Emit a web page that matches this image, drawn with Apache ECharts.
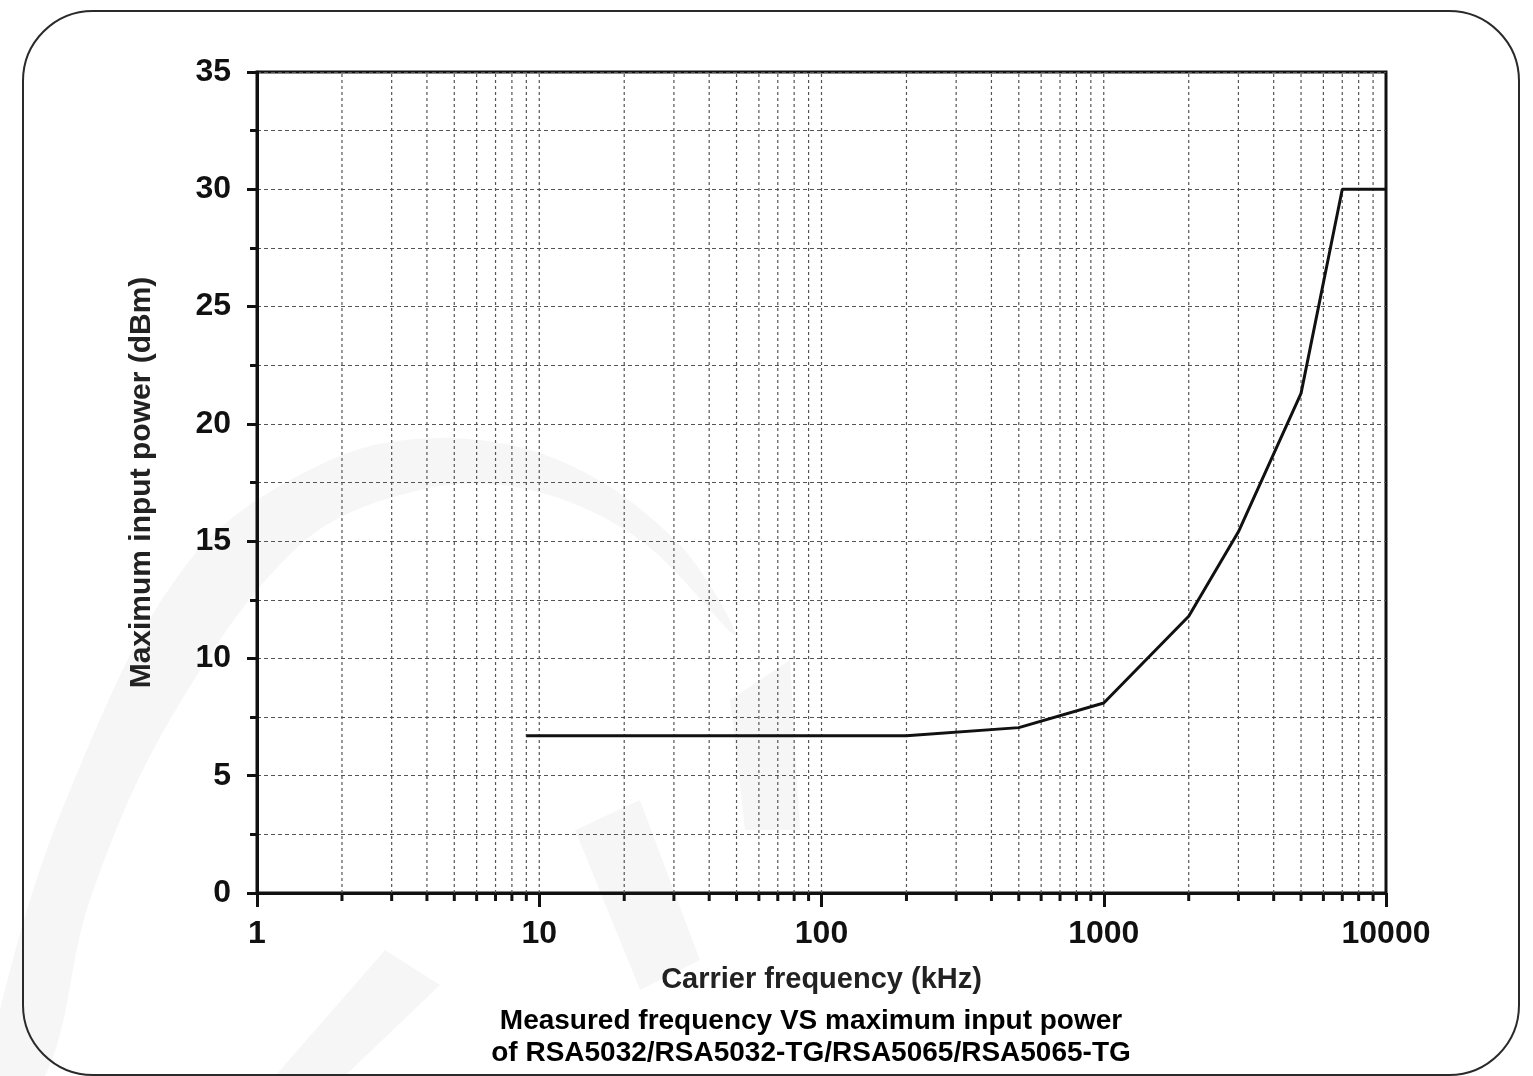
<!DOCTYPE html>
<html>
<head>
<meta charset="utf-8">
<style>
  html, body { margin: 0; padding: 0; background: #ffffff; }
  #chart { width: 1533px; height: 1076px; }
</style>
<script src="https://cdn.jsdelivr.net/npm/echarts@6/dist/echarts.min.js"></script>
</head>
<body>
<div id="chart"></div>
<script>
// Maximum input power curve (frequency in kHz, power in dBm)
const freqKHz  = [9, 200, 500, 1000, 2000, 3000, 5000, 7000, 10000];
const powerDBm = [6.7, 6.7, 7.05, 8.1, 11.8, 15.4, 21.3, 30, 30];

// Log-axis grid positions between the decades
const minorFreqs = [2, 3, 4, 5, 6, 7, 8, 9,
                    20, 30, 40, 50, 60, 70, 80, 90,
                    200, 300, 400, 500, 600, 700, 800, 900,
                    2000, 3000, 4000, 5000, 6000, 7000, 8000, 9000];
const decadeFreqs = [10, 100, 1000];

const xName = 'Carrier frequency (kHz)';
const yName = 'Maximum input power (dBm)';
const captionLines = ['Measured frequency VS maximum input power',
                      'of RSA5032/RSA5032-TG/RSA5065/RSA5065-TG'];

const FONT = '"Liberation Sans", Arial, Helvetica, sans-serif';
const chart = echarts.init(document.getElementById('chart'), null, { renderer: 'canvas' });

const curve = freqKHz.map((f, i) => [f, powerDBm[i]]);
const gridData = minorFreqs.map(f => [f, 0, 1]).concat(decadeFreqs.map(f => [f, 0, 0]));

const wmFill = 'rgba(0,0,0,0.035)';

chart.setOption({
  backgroundColor: '#ffffff',
  animation: false,
  graphic: [
    // faint logo watermark behind the plot
    { type: 'polygon', z: -10, silent: true,
      shape: { smooth: 0.35, points: [[0, 1010], [70, 790], [190, 560], [330, 460], [450, 438], [570, 465], [680, 545], [735, 635],
                                      [640, 540], [530, 490], [420, 490], [300, 545], [170, 720], [90, 900], [45, 1076], [0, 1076]] },
      style: { fill: wmFill } },
    { type: 'polygon', z: -10, silent: true,
      shape: { points: [[275, 1076], [385, 950], [440, 985], [345, 1076]] },
      style: { fill: wmFill } },
    { type: 'polygon', z: -10, silent: true,
      shape: { points: [[575, 830], [640, 800], [700, 960], [640, 990]] },
      style: { fill: wmFill } },
    { type: 'polygon', z: -10, silent: true,
      shape: { points: [[730, 700], [790, 660], [800, 830], [745, 830]] },
      style: { fill: wmFill } },
    // rounded frame
    { type: 'rect', z: -5, silent: true,
      shape: { x: 23, y: 11, width: 1496, height: 1064, r: 70 },
      style: { fill: 'none', stroke: '#2a2a2a', lineWidth: 2 } },
    // caption below the axis title
    { type: 'text', x: 811, y: 1005, silent: true,
      style: { text: captionLines.join('\n'), fill: '#000', font: 'bold 28px ' + FONT,
               align: 'center', verticalAlign: 'top', lineHeight: 32 } }
  ],
  grid: {
    left: 257, right: 147, top: 72, bottom: 183,
    show: true, borderColor: '#111', borderWidth: 3, backgroundColor: 'transparent'
  },
  xAxis: {
    type: 'log', logBase: 10, min: 1, max: 10000,
    name: xName, nameLocation: 'middle', nameGap: 72,
    nameTextStyle: { fontFamily: FONT, fontWeight: 'bold', fontSize: 29, color: '#222' },
    axisLine: { show: true, lineStyle: { color: '#111', width: 3 } },
    axisTick: { show: true, inside: false, length: 14, lineStyle: { color: '#111', width: 3 } },
    axisLabel: { fontFamily: FONT, fontWeight: 'bold', fontSize: 32, color: '#111', margin: 25,
                 formatter: v => String(Math.round(v)) },
    splitLine: { show: false },
    minorTick: { show: false }
  },
  yAxis: {
    type: 'value', min: 0, max: 35, interval: 5,
    name: yName, nameLocation: 'middle', nameGap: 100,
    nameTextStyle: { fontFamily: FONT, fontWeight: 'bold', fontSize: 30, color: '#222' },
    axisLine: { show: true, lineStyle: { color: '#111', width: 3 } },
    axisTick: { show: true, inside: false, length: 10, lineStyle: { color: '#111', width: 3 } },
    minorTick: { show: true, splitNumber: 2, length: 7, lineStyle: { color: '#111', width: 3 } },
    axisLabel: { fontFamily: FONT, fontWeight: 'bold', fontSize: 32, color: '#111', margin: 26 },
    splitLine: { show: true, lineStyle: { color: '#555', width: 1.2, type: [4, 3] } },
    minorSplitLine: { show: true, lineStyle: { color: '#555', width: 1.2, type: [4, 3] } }
  },
  series: [
    {
      // vertical grid lines on the log axis plus the short minor ticks
      type: 'custom', clip: false, silent: true, z: 1,
      data: gridData,
      renderItem: function (params, api) {
        const f = api.value(0);
        const minor = api.value(2) === 1;
        const p0 = api.coord([f, 0]);
        const p1 = api.coord([f, 35]);
        const children = [{
          type: 'line',
          shape: { x1: p0[0], y1: p0[1], x2: p1[0], y2: p1[1] },
          style: { stroke: '#555', lineWidth: 1.2, lineDash: [3, 3] }
        }];
        if (minor) {
          children.push({
            type: 'line',
            shape: { x1: p0[0], y1: p0[1], x2: p0[0], y2: p0[1] + 8 },
            style: { stroke: '#111', lineWidth: 3 }
          });
        }
        return { type: 'group', children: children };
      }
    },
    {
      type: 'line', data: curve, symbol: 'none', z: 5,
      lineStyle: { color: '#111', width: 3 }
    }
  ]
});
</script>
</body>
</html>
